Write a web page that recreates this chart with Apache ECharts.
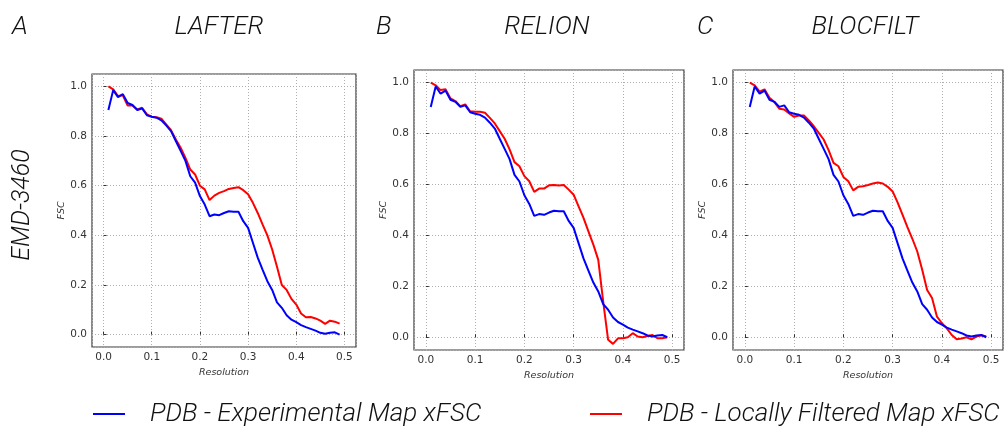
<!DOCTYPE html>
<html>
<head>
<meta charset="utf-8">
<script src="https://cdn.jsdelivr.net/npm/echarts@6/dist/echarts.min.js"></script>
<style>
  html, body { margin: 0; padding: 0; background: #fff; }
  #chart { width: 1004px; height: 431px; }
</style>
</head>
<body>
<div id="chart"></div>
<script>
// resolution (x) shared by every panel
const resolution = [
  0.01, 0.02, 0.03, 0.04, 0.05, 0.06, 0.07, 0.08, 0.09, 0.10,
  0.11, 0.12, 0.13, 0.14, 0.15, 0.16, 0.17, 0.18, 0.19, 0.20,
  0.21, 0.22, 0.23, 0.24, 0.25, 0.26, 0.27, 0.28, 0.29, 0.30,
  0.31, 0.32, 0.33, 0.34, 0.35, 0.36, 0.37, 0.38, 0.39, 0.40,
  0.41, 0.42, 0.43, 0.44, 0.45, 0.46, 0.47, 0.48, 0.49
];

// PDB - Experimental Map xFSC (same curve in all three panels)
const experimental = [
  0.905, 0.985, 0.957, 0.969, 0.933, 0.925, 0.905, 0.911, 0.884, 0.878,
  0.874, 0.863, 0.843, 0.820, 0.780, 0.740, 0.700, 0.638, 0.612, 0.558,
  0.524, 0.477, 0.484, 0.481, 0.490, 0.497, 0.495, 0.495, 0.457, 0.430,
  0.370, 0.310, 0.262, 0.215, 0.180, 0.130, 0.108, 0.078, 0.060, 0.050,
  0.038, 0.030, 0.023, 0.016, 0.007, 0.003, 0.007, 0.009, 0.000
];

// PDB - Locally Filtered Map xFSC, one per method
const lafter = [
  1.000, 0.988, 0.961, 0.964, 0.923, 0.923, 0.907, 0.914, 0.887, 0.878,
  0.876, 0.870, 0.847, 0.824, 0.786, 0.753, 0.712, 0.665, 0.645, 0.600,
  0.585, 0.542, 0.560, 0.571, 0.578, 0.587, 0.591, 0.594, 0.582, 0.565,
  0.531, 0.490, 0.444, 0.400, 0.343, 0.273, 0.200, 0.180, 0.144, 0.121,
  0.085, 0.070, 0.071, 0.065, 0.056, 0.043, 0.056, 0.052, 0.044
];
const relion = [
  1.000, 0.990, 0.971, 0.974, 0.938, 0.928, 0.908, 0.915, 0.888, 0.886,
  0.886, 0.882, 0.862, 0.840, 0.810, 0.780, 0.738, 0.688, 0.672, 0.633,
  0.613, 0.571, 0.584, 0.584, 0.597, 0.598, 0.596, 0.598, 0.580, 0.560,
  0.514, 0.469, 0.416, 0.364, 0.304, 0.140, -0.010, -0.026, -0.004, -0.004,
  0.000, 0.016, 0.003, 0.000, 0.005, 0.009, -0.004, -0.004, 0.000
];
const blocfilt = [
  1.000, 0.990, 0.965, 0.974, 0.941, 0.924, 0.898, 0.895, 0.879, 0.866,
  0.871, 0.871, 0.852, 0.829, 0.803, 0.777, 0.735, 0.685, 0.672, 0.630,
  0.613, 0.577, 0.591, 0.593, 0.598, 0.604, 0.608, 0.604, 0.591, 0.573,
  0.530, 0.482, 0.433, 0.387, 0.337, 0.265, 0.186, 0.154, 0.081, 0.055,
  0.035, 0.009, -0.008, -0.005, 0.000, -0.008, 0.003, 0.008, 0.003
];

const panelLetters = ["A", "B", "C"];
const panelTitles = ["LAFTER", "RELION", "BLOCFILT"];
const filteredSets = [lafter, relion, blocfilt];
const seriesNames = ["PDB - Experimental Map xFSC", "PDB - Locally Filtered Map xFSC"];
const rowLabel = "EMD-3460";

const chart = echarts.init(document.getElementById("chart"));

// plot boxes (px)
const boxes = [
  { left: 92, top: 74, width: 264, height: 273 },
  { left: 414, top: 70, width: 270, height: 280 },
  { left: 733, top: 70, width: 270, height: 280 },
];
const letterX = [12, 376, 697];
const titleX = [219, 547, 865];

const lightFont = "Roboto, 'Liberation Sans', sans-serif";
const tickFont = "'DejaVu Sans', sans-serif";

const oneDecimal = (v) =>
  Math.abs(v * 10 - Math.round(v * 10)) < 1e-6 ? v.toFixed(1) : "";

const pairs = (ys) => resolution.map((x, i) => [x, ys[i]]);

const grids = boxes.map((b) => ({
  ...b,
  show: true,
  borderColor: "#3a3a3a",
  borderWidth: 1.2,
  backgroundColor: "transparent",
  containLabel: false,
}));

const axisCommon = {
  axisLine: { show: false },
  axisTick: { show: true, inside: true, length: 3, lineStyle: { color: "#333" } },
  splitLine: { show: true, lineStyle: { color: "#b0b0b0", type: [1, 2], width: 1 } },
  axisLabel: {
    color: "#333",
    fontSize: 10.5,
    fontFamily: tickFont,
    margin: 5,
    formatter: oneDecimal,
    showMinLabel: false,
    showMaxLabel: false,
  },
  nameTextStyle: { color: "#333", fontSize: 9.5, fontStyle: "italic", fontFamily: tickFont },
};

const xAxes = boxes.map((b, i) => ({
  ...axisCommon,
  type: "value",
  gridIndex: i,
  min: -0.024,
  max: 0.524,
  splitNumber: 5,
  name: "Resolution",
  nameLocation: "middle",
  nameGap: 19,
}));

const yAxes = boxes.map((b, i) => ({
  ...axisCommon,
  type: "value",
  gridIndex: i,
  min: -0.05,
  max: 1.05,
  splitNumber: 5,
  name: "FSC",
  nameLocation: "middle",
  nameGap: 22,
}));

const series = [];
filteredSets.forEach((set, i) => {
  series.push({
    name: seriesNames[0],
    type: "line",
    xAxisIndex: i,
    yAxisIndex: i,
    data: pairs(experimental),
    showSymbol: false,
    color: "#0000ff",
    lineStyle: { color: "#0000ff", width: 2 },
    z: 3,
  });
  series.push({
    name: seriesNames[1],
    type: "line",
    xAxisIndex: i,
    yAxisIndex: i,
    data: pairs(set),
    showSymbol: false,
    color: "#ff0000",
    lineStyle: { color: "#ff0000", width: 2 },
    z: 2,
  });
});

const headStyle = { fontSize: 26, fontStyle: "italic", fontWeight: 300, color: "#111", fontFamily: lightFont };
const titles = [];
panelLetters.forEach((t, i) => {
  titles.push({ text: t, left: letterX[i], top: 14, padding: 0, textStyle: headStyle });
  titles.push({ text: panelTitles[i], left: titleX[i], top: 14, padding: 0, textAlign: "center", textStyle: headStyle });
});

const legendText = {
  fontSize: 26,
  fontStyle: "italic",
  fontWeight: 300,
  color: "#111",
  fontFamily: lightFont,
  padding: [0, 0, 0, 20],
};

const option = {
  animation: false,
  backgroundColor: "#fff",
  title: titles,
  legend: [
    { data: [seriesNames[0]], left: 93, top: 401, padding: 0, icon: "rect", itemWidth: 32, itemHeight: 2,
      textStyle: legendText, selectedMode: false },
    { data: [seriesNames[1]], left: 590, top: 401, padding: 0, icon: "rect", itemWidth: 32, itemHeight: 2,
      textStyle: legendText, selectedMode: false },
  ],
  graphic: [
    {
      type: "text",
      x: 23,
      y: 205,
      rotation: Math.PI / 2,
      style: {
        text: rowLabel,
        fontSize: 25,
        fontStyle: "italic",
        fontWeight: 300,
        fontFamily: lightFont,
        fill: "#111",
        align: "center",
        verticalAlign: "middle",
      },
    },
  ],
  grid: grids,
  xAxis: xAxes,
  yAxis: yAxes,
  series: series,
};

chart.setOption(option);
</script>
</body>
</html>
